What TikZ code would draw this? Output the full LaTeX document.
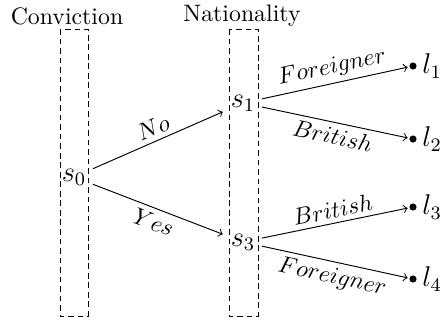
\documentclass[tikz,border=0pt]{standalone}
\begin{document}
\begin{tikzpicture}[x=0.42pt,y=-0.42pt,
  state/.style={inner sep=2.6pt,font=\large},
  leaf/.style={circle,fill,inner sep=0pt,minimum size=3pt},
  leaflab/.style={inner sep=2pt,font=\large},
  group/.style={draw,dash pattern=on 2.4pt off 1.6pt,line width=0.4pt},
  edge/.style={->,line width=0.4pt,shorten >=0.6pt},
  lab/.style={sloped,midway,inner sep=2pt}]
\useasboundingbox (0,0) rectangle (445,320);
\node (conv) at (67,16) {Conviction};
\node (nat) at (242,16) {Nationality};
\draw[group] (60,29) rectangle (88,316);
\draw[group] (229,29) rectangle (258,316);
\node[state] (s0) at (74,177) {$s_0$};
\node[state] (s1) at (243,103) {$s_1$};
\node[state] (s3) at (243,242) {$s_3$};
\node[leaf,label={[leaflab]right:$l_1$}] (l1) at (413,66) {};
\node[leaf,label={[leaflab]right:$l_2$}] (l2) at (413,139) {};
\node[leaf,label={[leaflab]right:$l_3$}] (l3) at (413,207) {};
\node[leaf,label={[leaflab]right:$l_4$}] (l4) at (413,279) {};
\draw[edge] (s0) -- node[lab,above]{$No$} (s1);
\draw[edge] (s0) -- node[lab,below]{$Yes$} (s3);
\draw[edge] (s1) -- node[lab,above]{$Foreigner$} (l1);
\draw[edge] (s1) -- node[lab,below]{$British$} (l2);
\draw[edge] (s3) -- node[lab,above]{$British$} (l3);
\draw[edge] (s3) -- node[lab,below]{$Foreigner$} (l4);
\end{tikzpicture}
\end{document}
